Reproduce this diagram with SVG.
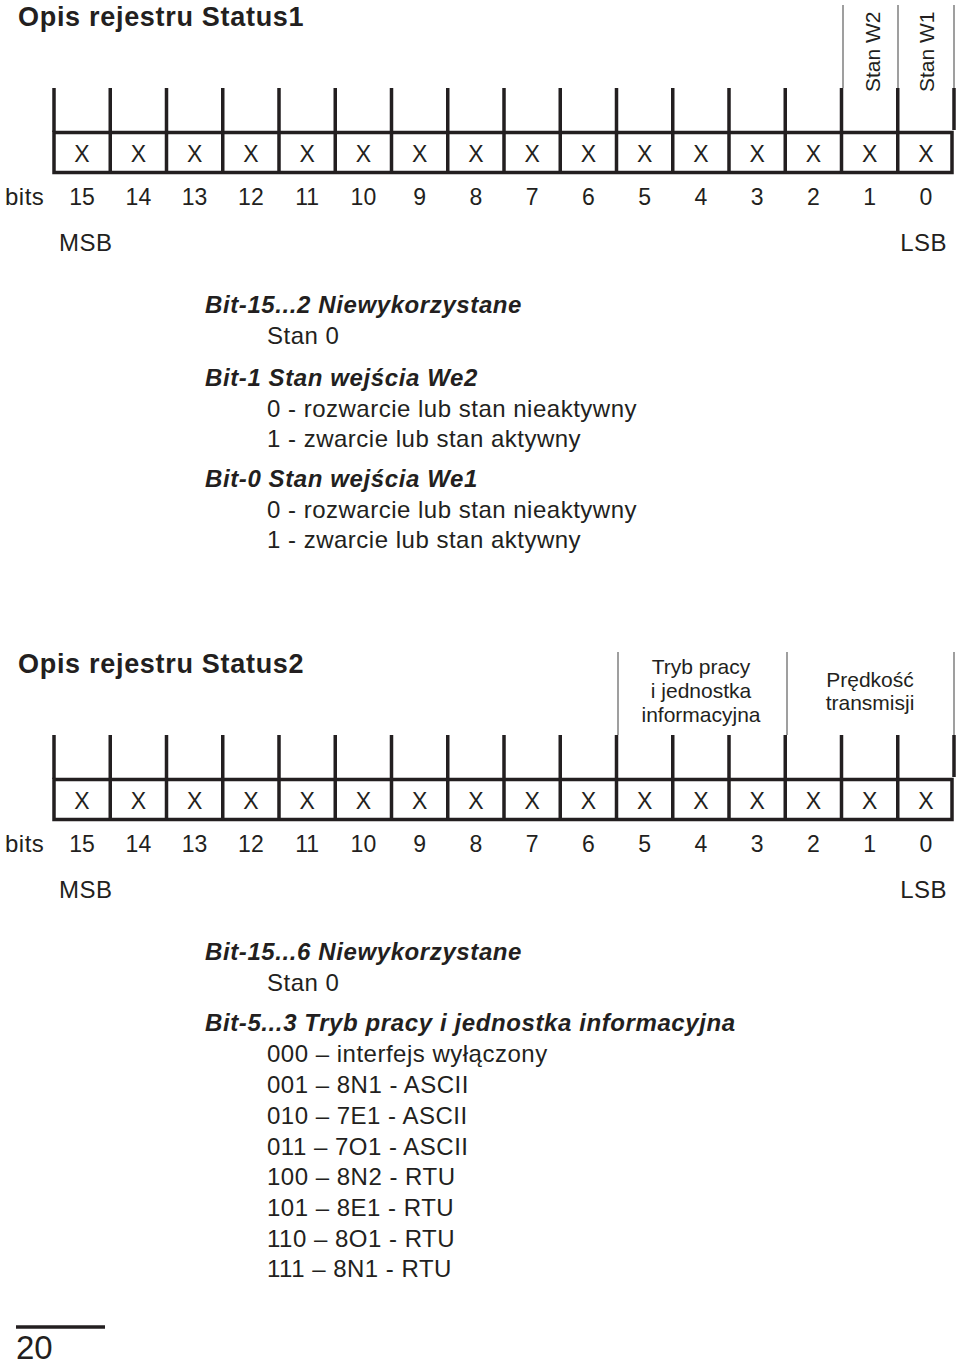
<svg xmlns="http://www.w3.org/2000/svg" width="960" height="1365" viewBox="0 0 960 1365">
<style>
text{font-family:"Liberation Sans",Arial,Helvetica,sans-serif;fill:#231f20}
.title{font-size:27px;font-weight:bold;letter-spacing:0.7px}
.x{font-size:23px;text-anchor:middle}
.num{font-size:23px;text-anchor:middle}
.lbl{font-size:24px;letter-spacing:0.5px}
.body{font-size:24px;letter-spacing:0.5px}
.bi{font-size:24px;font-weight:bold;font-style:italic;letter-spacing:0.6px}
.small{font-size:21px;text-anchor:middle}
.rot{font-size:21px}
.thick{stroke:#231f20;stroke-width:3.5;fill:none}
.thin{stroke:#808080;stroke-width:1.5;fill:none}
</style>
<defs>
<g id="reg">
<path class="thick" d="M54,88V132M110.25,88V132M166.5,88V132M222.75,88V132M279,88V132M335.25,88V132M391.5,88V132M447.75,88V132M504,88V132M560.25,88V132M616.5,88V132M672.75,88V132M729,88V132M785.25,88V132M841.5,88V132M897.75,88V132M954,88V130"/>
<rect class="thick" x="54" y="132.5" width="898" height="40"/>
<path class="thick" d="M110.25,132V173M166.5,132V173M222.75,132V173M279,132V173M335.25,132V173M391.5,132V173M447.75,132V173M504,132V173M560.25,132V173M616.5,132V173M672.75,132V173M729,132V173M785.25,132V173M841.5,132V173M897.75,132V173"/>
<g class="x">
<text x="82" y="162">X</text><text x="138.4" y="162">X</text><text x="194.6" y="162">X</text><text x="250.9" y="162">X</text>
<text x="307.1" y="162">X</text><text x="363.4" y="162">X</text><text x="419.6" y="162">X</text><text x="475.9" y="162">X</text>
<text x="532.1" y="162">X</text><text x="588.4" y="162">X</text><text x="644.6" y="162">X</text><text x="700.9" y="162">X</text>
<text x="757.1" y="162">X</text><text x="813.4" y="162">X</text><text x="869.6" y="162">X</text><text x="925.9" y="162">X</text>
</g>
<text class="lbl" x="5" y="205">bits</text>
<g class="num">
<text x="82" y="205">15</text><text x="138.4" y="205">14</text><text x="194.6" y="205">13</text><text x="250.9" y="205">12</text>
<text x="307.1" y="205">11</text><text x="363.4" y="205">10</text><text x="419.6" y="205">9</text><text x="475.9" y="205">8</text>
<text x="532.1" y="205">7</text><text x="588.4" y="205">6</text><text x="644.6" y="205">5</text><text x="700.9" y="205">4</text>
<text x="757.1" y="205">3</text><text x="813.4" y="205">2</text><text x="869.6" y="205">1</text><text x="925.9" y="205">0</text>
</g>
<text class="lbl" x="59" y="251">MSB</text>
<text class="lbl" x="947" y="251" text-anchor="end">LSB</text>
</g>
</defs>

<g id="status1">
<text class="title" x="18" y="26">Opis rejestru Status1</text>
<use href="#reg"/>
<path class="thin" d="M843,5V88M898,5V88M954,5V88"/>
<text class="rot" transform="translate(880,92) rotate(-90)">Stan W2</text>
<text class="rot" transform="translate(934,92) rotate(-90)">Stan W1</text>
</g>

<g id="desc1">
<text class="bi" x="205" y="313">Bit-15...2 Niewykorzystane</text>
<text class="body" x="267" y="344">Stan 0</text>
<text class="bi" x="205" y="386">Bit-1 Stan wejścia We2</text>
<text class="body" x="267" y="417">0 - rozwarcie lub stan nieaktywny</text>
<text class="body" x="267" y="447">1 - zwarcie lub stan aktywny</text>
<text class="bi" x="205" y="487">Bit-0 Stan wejścia We1</text>
<text class="body" x="267" y="518">0 - rozwarcie lub stan nieaktywny</text>
<text class="body" x="267" y="548">1 - zwarcie lub stan aktywny</text>
</g>

<g id="status2">
<text class="title" x="18" y="673">Opis rejestru Status2</text>
<use href="#reg" transform="translate(0,647)"/>
<path class="thin" d="M618,652V735M787,652V735M954,652V735"/>
<text class="small" x="701" y="674">Tryb pracy</text>
<text class="small" x="701" y="698">i jednostka</text>
<text class="small" x="701" y="722">informacyjna</text>
<text class="small" x="870" y="687">Prędkość</text>
<text class="small" x="870" y="710">transmisji</text>
</g>

<g id="desc2">
<text class="bi" x="205" y="960">Bit-15...6 Niewykorzystane</text>
<text class="body" x="267" y="991">Stan 0</text>
<text class="bi" x="205" y="1031">Bit-5...3 Tryb pracy i jednostka informacyjna</text>
<text class="body" x="267" y="1062">000 – interfejs wyłączony</text>
<text class="body" x="267" y="1093">001 – 8N1 - ASCII</text>
<text class="body" x="267" y="1124">010 – 7E1 - ASCII</text>
<text class="body" x="267" y="1155">011 – 7O1 - ASCII</text>
<text class="body" x="267" y="1185">100 – 8N2 - RTU</text>
<text class="body" x="267" y="1216">101 – 8E1 - RTU</text>
<text class="body" x="267" y="1247">110 – 8O1 - RTU</text>
<text class="body" x="267" y="1277">111 – 8N1 - RTU</text>
</g>

<g id="page">
<path class="thick" d="M16,1327H105"/>
<text x="16" y="1359" style="font-size:33px">20</text>
</g>
</svg>
